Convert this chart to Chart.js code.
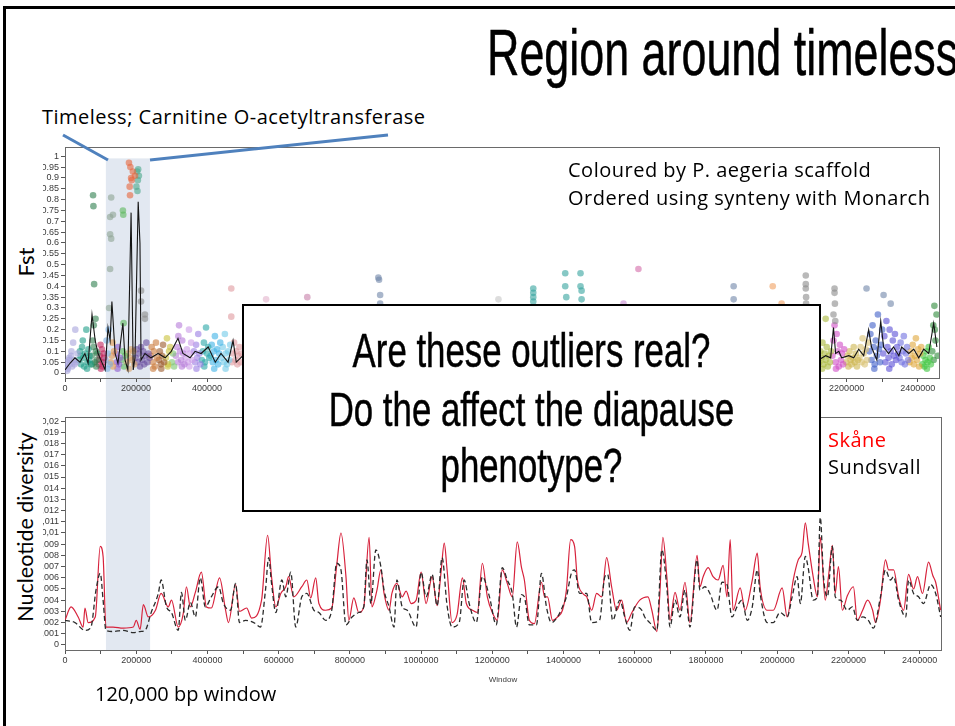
<!DOCTYPE html>
<html>
<head>
<meta charset="utf-8">
<title>Region around timeless</title>
<script src="https://cdn.jsdelivr.net/npm/chart.js@4.4.1/dist/chart.umd.min.js"></script>
<style>
  html, body { margin: 0; padding: 0; background: #fff; }
  body { position: relative; width: 955px; height: 726px; overflow: hidden; font-family: 'Open Sans', Lato, sans-serif; color: #000; }
  .frame { position: absolute; left: 3px; top: 6px; width: 1000px; height: 800px; border-left: 3px solid #000; border-top: 3px solid #000; box-sizing: border-box; }
  .txt { position: absolute; white-space: nowrap; line-height: 1; }
  .note { font-size: 20px; letter-spacing: 0.5px; }
  .cond { font-family: 'Liberation Sans', Arial, sans-serif; -webkit-text-stroke: 0.5px #000; }
  canvas { position: absolute; }
  #fst { left: 43px; top: 140px; }
  #pi { left: 43px; top: 400px; }
  #question { position: absolute; left: 242px; top: 304px; width: 579px; height: 208px; background: #fff; border: 2px solid #000; box-sizing: border-box; z-index: 5; }
  .qline { position: absolute; left: 242px; width: 579px; text-align: center; font-size: 49px; line-height: 1; transform: scaleX(0.71); transform-origin: 50% 0; z-index: 6; white-space: nowrap; }
  .rot { position: absolute; white-space: nowrap; line-height: 1; transform: translate(-50%, -50%) rotate(-90deg); font-family: Lato, sans-serif; }
  svg { position: absolute; left: 0; top: 0; z-index: 4; }
</style>
</head>
<body>
<div class="frame"></div>

<div class="txt cond" style="left:487px; top:20px; font-size:65px; transform:scaleX(0.69); transform-origin:0 0;">Region around timeless</div>
<div class="txt note" style="left:42px; top:107px;">Timeless; Carnitine O-acetyltransferase</div>

<canvas id="fst" width="900" height="260"></canvas>
<canvas id="pi" width="900" height="285"></canvas>

<svg width="955" height="726">
  <line x1="63" y1="135" x2="108" y2="160" stroke="#4f81bd" stroke-width="3"/>
  <line x1="150" y1="160" x2="388" y2="135" stroke="#4f81bd" stroke-width="3"/>
</svg>

<div class="txt note" style="left:568px; top:160px;">Coloured by P. aegeria scaffold</div>
<div class="txt note" style="left:568px; top:188px;">Ordered using synteny with Monarch</div>
<div class="rot" style="left:26px; top:262px; font-size:22px;">Fst</div>
<div class="rot" style="left:26px; top:527px; font-size:21.5px;">Nucleotide diversity</div>
<div class="txt note" style="left:828px; top:430px; color:#ff0000;">Skåne</div>
<div class="txt note" style="left:828px; top:457px;">Sundsvall</div>
<div class="txt" style="left:95px; top:684px; font-size:20px;">120,000 bp window</div>

<div id="question"></div>
<div class="qline cond" style="top:326px;">Are these outliers real?</div>
<div class="qline cond" style="top:385px;">Do the affect the diapause</div>
<div class="qline cond" style="top:441px;">phenotype?</div>

<script>
// ---- Fst windows, one list per P. aegeria scaffold ----
const scaffoldColors = [
  '#a7a3dc', '#1f9e89', '#2f7f4f', '#c0245c', '#7fb0e3', '#e39a4e', '#8d5acf', '#5cb85c',
  '#d9a066', '#e8663c', '#4ca98c', '#6a4fa0', '#c97a3a', '#9b5a2b', '#c9c23a', '#7cc46f',
  '#b67bd9', '#cc9be8', '#9a7de2', '#2aa6a6', '#3fb3e6', '#72c9e8', '#e09a9e', '#8ea392',
  '#8a8a8a', '#e3b3cb', '#c77fa8', '#6f86a8', '#c6c6c6', '#36a39e', '#c68ad0', '#d36aa8',
  '#f0a060', '#a9b83a', '#d04fc6', '#cdb550', '#d8c172', '#3f5fc8', '#5a4fd6', '#6f70e0',
  '#e0a63a', '#3cc43c', '#2e8b3a'
];

const fstPos = [
  [2000, 5000, 8000, 11000, 14000, 17000, 20000, 23000, 26000, 29000, 32000, 35000, 6000, 18000, 12000, 27000],
  [39000, 42000, 45000, 48000, 51000, 54000, 57000, 60000, 63000, 66000, 69000, 72000, 50000, 62000, 44000, 68000],
  [75000, 78000, 81000, 84000, 87000, 90000, 80000, 86000, 88000, 79000, 80000, 82000, 76000, 91000],
  [95000, 98000, 101000, 104000, 107000, 110000, 100000, 105000, 96000, 109000],
  [114000, 117000, 120000, 123000, 126000, 119000],
  [129000, 132000, 135000, 138000, 134000],
  [143000, 146000, 149000, 152000, 155000, 148000],
  [160000, 163000, 166000, 169000, 165000, 163000, 164000],
  [174000, 177000, 180000, 183000, 186000, 189000, 192000, 195000],
  [180000, 184000, 191000, 197000, 186000, 188000, 182000, 183000],
  [203000, 206000, 208000, 201000, 204000, 205000],
  [199000, 202000, 205000, 208000, 211000, 214000, 217000, 220000, 223000, 226000, 229000, 232000, 235000, 238000],
  [241000, 244000, 247000, 250000, 253000, 256000, 259000, 248000],
  [264000, 267000, 270000, 273000, 276000, 279000, 271000],
  [284000, 287000, 290000, 293000, 296000, 289000],
  [301000, 304000, 307000],
  [312000, 315000, 318000, 321000, 324000, 327000, 330000, 333000, 336000, 319000, 329000],
  [340000, 343000, 346000, 349000, 352000, 355000, 358000, 350000],
  [363000, 366000, 369000, 372000, 375000, 378000, 381000, 370000],
  [385000, 388000, 391000, 394000, 397000, 400000, 403000, 406000, 392000],
  [410000, 413000, 416000, 419000, 422000, 425000, 428000, 431000, 434000, 437000, 420000],
  [441000, 444000, 447000, 450000, 453000, 456000, 459000, 462000, 465000, 452000],
  [470000, 473000, 476000, 479000, 482000, 485000, 488000, 491000, 494000, 497000, 468000, 468000],
  [130000, 127000, 135000, 127000, 130000, 127000, 124000],
  [214000, 214000, 225000, 225000, 2085000, 2085000, 2085000, 2086000, 2086000, 2166000, 2166000, 2167000, 2163000, 2168000],
  [566000],
  [682000],
  [882000, 884000, 887000, 887000, 1882000, 1882000, 2256000, 2304000, 2324000],
  [1220000],
  [1318000, 1318000, 1318000, 1318000, 1408000, 1408000, 1411000, 1451000, 1451000, 1454000, 1454000],
  [1572000],
  [1614000],
  [1992000, 2017000],
  [2123000, 2126000, 2129000, 2132000, 2135000, 2138000, 2141000, 2144000, 2147000, 2150000, 2153000, 2156000, 2141000, 2131000],
  [2160000, 2163000, 2166000, 2169000, 2172000, 2175000, 2178000, 2181000, 2184000, 2187000, 2190000, 2193000, 2170000],
  [2199000, 2202000, 2205000, 2208000, 2211000, 2214000, 2217000, 2220000, 2223000, 2226000, 2229000, 2232000],
  [2236000, 2239000, 2242000, 2245000, 2248000, 2251000, 2254000, 2257000, 2260000],
  [2264000, 2267000, 2270000, 2273000, 2276000, 2279000, 2282000, 2285000, 2288000, 2291000, 2294000, 2297000, 2300000, 2278000],
  [2303000, 2306000, 2309000, 2312000, 2315000, 2318000, 2321000, 2324000, 2327000, 2330000, 2333000, 2336000, 2339000, 2342000, 2345000, 2320000],
  [2349000, 2352000, 2355000, 2358000, 2361000, 2364000, 2367000, 2370000, 2373000],
  [2377000, 2380000, 2383000, 2386000, 2389000, 2392000, 2395000, 2398000, 2401000, 2404000, 2407000, 2410000],
  [2413000, 2416000, 2419000, 2422000, 2425000, 2428000, 2431000, 2434000, 2437000, 2426000],
  [2441000, 2444000, 2447000, 2450000, 2453000, 2456000, 2445000, 2448000]
];

const fstVal = [
  [0.03, 0.05, 0.02, 0.06, 0.04, 0.08, 0.03, 0.14, 0.06, 0.20, 0.05, 0.09, 0.01, 0.10, 0.07, 0.04],
  [0.06, 0.10, 0.04, 0.12, 0.07, 0.03, 0.09, 0.20, 0.05, 0.11, 0.08, 0.04, 0.15, 0.02, 0.08, 0.06],
  [0.08, 0.15, 0.22, 0.05, 0.10, 0.06, 0.12, 0.25, 0.03, 0.82, 0.77, 0.41, 0.04, 0.09],
  [0.04, 0.08, 0.02, 0.11, 0.05, 0.07, 0.13, 0.03, 0.06, 0.09],
  [0.06, 0.15, 0.09, 0.20, 0.04, 0.02],
  [0.05, 0.08, 0.03, 0.10, 0.14],
  [0.09, 0.05, 0.12, 0.04, 0.07, 0.02],
  [0.06, 0.10, 0.03, 0.08, 0.23, 0.75, 0.73],
  [0.05, 0.09, 0.02, 0.07, 0.11, 0.06, 0.10, 0.04],
  [0.97, 0.95, 0.93, 0.91, 0.90, 0.89, 0.86, 0.82],
  [0.93, 0.94, 0.91, 0.86, 0.84, 0.89],
  [0.07, 0.11, 0.05, 0.09, 0.03, 0.12, 0.06, 0.10, 0.04, 0.08, 0.14, 0.05, 0.09, 0.07],
  [0.08, 0.12, 0.05, 0.10, 0.03, 0.14, 0.07, 0.02],
  [0.06, 0.10, 0.04, 0.08, 0.13, 0.05, 0.02],
  [0.07, 0.16, 0.04, 0.10, 0.12, 0.03],
  [0.05, 0.09, 0.03],
  [0.08, 0.12, 0.05, 0.22, 0.10, 0.06, 0.15, 0.09, 0.04, 0.17, 0.03],
  [0.07, 0.11, 0.05, 0.20, 0.09, 0.14, 0.06, 0.03],
  [0.10, 0.05, 0.13, 0.07, 0.18, 0.09, 0.04, 0.02],
  [0.06, 0.10, 0.14, 0.05, 0.21, 0.09, 0.12, 0.07, 0.03],
  [0.08, 0.13, 0.05, 0.10, 0.17, 0.06, 0.11, 0.04, 0.09, 0.14, 0.02],
  [0.07, 0.12, 0.05, 0.18, 0.09, 0.04, 0.10, 0.06, 0.13, 0.02],
  [0.05, 0.09, 0.14, 0.06, 0.10, 0.04, 0.08, 0.12, 0.05, 0.09, 0.39, 0.26],
  [0.81, 0.72, 0.73, 0.64, 0.62, 0.48, 0.30],
  [0.38, 0.33, 0.27, 0.25, 0.45, 0.41, 0.39, 0.35, 0.32, 0.39, 0.37, 0.32, 0.27, 0.24],
  [0.34],
  [0.35],
  [0.44, 0.43, 0.36, 0.32, 0.40, 0.34, 0.39, 0.36, 0.32],
  [0.34],
  [0.39, 0.37, 0.35, 0.33, 0.46, 0.40, 0.35, 0.46, 0.40, 0.38, 0.34],
  [0.32],
  [0.48],
  [0.40, 0.32],
  [0.05, 0.10, 0.07, 0.14, 0.04, 0.09, 0.06, 0.12, 0.03, 0.08, 0.05, 0.10, 0.25, 0.02],
  [0.08, 0.15, 0.22, 0.05, 0.18, 0.10, 0.03, 0.13, 0.06, 0.09, 0.04, 0.11, 0.02],
  [0.05, 0.08, 0.03, 0.10, 0.06, 0.04, 0.07, 0.12, 0.05, 0.09, 0.03, 0.06],
  [0.07, 0.12, 0.05, 0.16, 0.09, 0.04, 0.11, 0.06, 0.14],
  [0.10, 0.18, 0.06, 0.22, 0.12, 0.04, 0.15, 0.08, 0.27, 0.11, 0.05, 0.13, 0.20, 0.02],
  [0.09, 0.17, 0.05, 0.24, 0.12, 0.07, 0.20, 0.10, 0.04, 0.15, 0.08, 0.18, 0.06, 0.12, 0.09, 0.02],
  [0.07, 0.14, 0.05, 0.10, 0.17, 0.04, 0.09, 0.12, 0.06],
  [0.05, 0.10, 0.07, 0.13, 0.04, 0.08, 0.16, 0.06, 0.11, 0.03, 0.09, 0.12],
  [0.04, 0.08, 0.03, 0.06, 0.10, 0.05, 0.12, 0.07, 0.04, 0.02],
  [0.10, 0.22, 0.31, 0.15, 0.27, 0.08, 0.06, 0.20]
];

// smoothed Fst (black line); null breaks the line
const fstMeanPos = [
  0, 14000, 28000, 42000, 56000, 65000, 76000, 85000, 93000, 101000, 113000, 121000, 127000, 132000,
  141000, 149000, 163000, 169000, 177000, 186000, 192000, 197000, 206000, 211000, 214000, 225000,
  242000, 262000, 282000, 299000, 318000, 332000, 352000, 366000, 383000, 403000, 423000, 439000,
  459000, 473000, 482000, 501000, 1300000,
  2121000, 2141000, 2155000, 2163000, 2169000, 2178000, 2186000, 2206000, 2220000, 2234000, 2248000,
  2262000, 2270000, 2285000, 2296000, 2304000, 2318000, 2332000, 2347000, 2355000, 2375000, 2389000,
  2403000, 2417000, 2431000, 2445000, 2454000
];
const fstMeanVal = [
  0.014, 0.045, 0.07, 0.05, 0.09, 0.045, 0.27, 0.15, 0.09, 0.06, 0.014, 0.21, 0.15, 0.33,
  0.09, 0.045, 0.23, 0.06, 0.014, 0.74, 0.014, 0.07, 0.79, 0.6, 0.06, 0.09,
  0.07, 0.09, 0.07, 0.10, 0.16, 0.09, 0.07, 0.10, 0.09, 0.12, 0.05, 0.09,
  0.05, 0.15, 0.05, 0.08, null,
  0.06, 0.08, 0.07, 0.21, 0.09, 0.10, 0.07, 0.08, 0.07, 0.11, 0.08,
  0.20, 0.12, 0.06, 0.24, 0.12, 0.09, 0.12, 0.08, 0.12, 0.09, 0.11,
  0.07, 0.11, 0.09, 0.23, 0.12
];

// ---- nucleotide diversity ----
const skanePos = [
  0, 17000, 37000, 51000, 56000, 65000, 85000, 99000, 107000, 115000, 135000, 163000, 192000, 200000,
  211000, 220000, 234000, 254000, 270000, 290000, 299000, 318000, 332000, 341000, 352000, 366000,
  383000, 397000, 411000, 434000, 451000, 459000, 479000, 490000, 510000, 524000, 552000, 569000,
  580000, 592000, 606000, 620000, 628000, 642000, 665000, 679000, 690000, 704000, 713000, 732000,
  749000, 763000, 775000, 789000, 797000, 811000, 825000, 839000, 854000, 862000, 876000, 887000,
  896000, 910000, 918000, 932000, 947000, 958000, 972000, 986000, 1000000, 1014000, 1031000, 1045000,
  1056000, 1065000, 1073000, 1087000, 1101000, 1116000, 1127000, 1144000, 1158000, 1172000, 1186000,
  1200000, 1214000, 1228000, 1242000, 1256000, 1270000, 1282000, 1290000, 1304000, 1318000, 1338000,
  1347000, 1355000, 1369000, 1383000, 1397000, 1408000, 1420000, 1431000, 1439000, 1454000, 1465000,
  1479000, 1493000, 1507000, 1521000, 1535000, 1549000, 1563000, 1577000, 1592000, 1614000, 1637000,
  1648000, 1662000, 1670000, 1679000, 1690000, 1699000, 1713000, 1727000, 1741000, 1755000, 1775000,
  1783000, 1792000, 1806000, 1820000, 1834000, 1848000, 1859000, 1868000, 1876000, 1896000, 1910000,
  1930000, 1944000, 1952000, 1972000, 1989000, 2014000, 2028000, 2045000, 2059000, 2070000, 2079000,
  2087000, 2101000, 2113000, 2121000, 2135000, 2144000, 2155000, 2163000, 2172000, 2183000, 2197000,
  2214000, 2225000, 2240000, 2254000, 2268000, 2276000, 2290000, 2304000, 2313000, 2327000, 2341000,
  2355000, 2369000, 2383000, 2394000, 2408000, 2425000, 2437000, 2445000, 2459000
];
const skaneVal = [
  0.0022, 0.0034, 0.0025, 0.0016, 0.0033, 0.0020, 0.0025, 0.0088, 0.0079, 0.0016, 0.0016, 0.0015, 0.0016, 0.0022,
  0.0014, 0.0036, 0.0025, 0.0031, 0.0046, 0.0034, 0.0040, 0.0016, 0.0028, 0.0052, 0.0034, 0.0047,
  0.0065, 0.0034, 0.0033, 0.0060, 0.0031, 0.0020, 0.0054, 0.0030, 0.0033, 0.0024, 0.0040, 0.0098,
  0.0061, 0.0034, 0.0046, 0.0052, 0.0061, 0.0043, 0.0052, 0.0058, 0.0042, 0.0060, 0.0037, 0.0031,
  0.0033, 0.0071, 0.0100, 0.0061, 0.0022, 0.0042, 0.0029, 0.0034, 0.0096, 0.0034, 0.0049, 0.0067,
  0.0046, 0.0031, 0.0046, 0.0055, 0.0043, 0.0048, 0.0037, 0.0040, 0.0065, 0.0037, 0.0061, 0.0035,
  0.0065, 0.0091, 0.0067, 0.0020, 0.0027, 0.0060, 0.0037, 0.0031, 0.0029, 0.0073, 0.0043,
  0.0029, 0.0022, 0.0067, 0.0055, 0.0043, 0.0092, 0.0069, 0.0058, 0.0022, 0.0019, 0.0056,
  0.0043, 0.0043, 0.0022, 0.0025, 0.0031, 0.0049, 0.0094, 0.0088, 0.0058, 0.0046, 0.0043,
  0.0031, 0.0046, 0.0043, 0.0078, 0.0052, 0.0031, 0.0040, 0.0020, 0.0029, 0.0040, 0.0043,
  0.0031, 0.0012, 0.0043, 0.0096, 0.0061, 0.0022, 0.0047, 0.0031, 0.0056, 0.0020, 0.0080,
  0.0052, 0.0061, 0.0069, 0.0061, 0.0058, 0.0071, 0.0043, 0.0094, 0.0031, 0.0051, 0.0031,
  0.0058, 0.0082, 0.0052, 0.0031, 0.0031, 0.0051, 0.0025, 0.0058, 0.0076, 0.0083, 0.0109,
  0.0091, 0.0061, 0.0043, 0.0096, 0.0040, 0.0061, 0.0089, 0.0046, 0.0070, 0.0031, 0.0044,
  0.0052, 0.0022, 0.0031, 0.0040, 0.0031, 0.0020, 0.0040, 0.0076, 0.0067, 0.0067, 0.0043,
  0.0031, 0.0063, 0.0050, 0.0061, 0.0046, 0.0074, 0.0062, 0.0056, 0.0031
];

const sundsvallPos = [
  0, 28000, 56000, 73000, 87000, 99000, 107000, 115000, 135000, 163000, 192000, 211000, 225000, 242000,
  262000, 270000, 285000, 299000, 318000, 327000, 338000, 352000, 366000, 380000, 394000, 411000,
  431000, 445000, 465000, 479000, 490000, 507000, 530000, 549000, 563000, 572000, 580000, 592000,
  609000, 620000, 634000, 648000, 665000, 679000, 699000, 713000, 732000, 749000, 763000, 775000,
  789000, 806000, 825000, 839000, 848000, 859000, 873000, 887000, 896000, 910000, 924000, 932000,
  947000, 961000, 986000, 1000000, 1014000, 1031000, 1045000, 1059000, 1073000, 1087000, 1107000,
  1121000, 1135000, 1155000, 1172000, 1192000, 1211000, 1228000, 1242000, 1256000, 1268000, 1282000,
  1290000, 1304000, 1324000, 1338000, 1352000, 1366000, 1383000, 1397000, 1408000, 1423000, 1431000,
  1445000, 1465000, 1479000, 1501000, 1516000, 1524000, 1538000, 1558000, 1572000, 1586000, 1600000,
  1620000, 1628000, 1642000, 1662000, 1676000, 1690000, 1699000, 1713000, 1727000, 1741000, 1755000,
  1775000, 1783000, 1797000, 1811000, 1831000, 1845000, 1859000, 1873000, 1887000, 1901000, 1916000,
  1930000, 1944000, 1952000, 1972000, 1989000, 2008000, 2028000, 2042000, 2056000, 2065000, 2079000,
  2087000, 2101000, 2113000, 2121000, 2130000, 2141000, 2155000, 2163000, 2178000, 2197000, 2211000,
  2225000, 2240000, 2256000, 2270000, 2290000, 2304000, 2318000, 2327000, 2341000, 2361000, 2369000,
  2383000, 2397000, 2411000, 2431000, 2445000, 2459000
];
const sundsvallVal = [
  0.0022, 0.0020, 0.0013, 0.0016, 0.0049, 0.0064, 0.0040, 0.0013, 0.0012, 0.0013, 0.0011, 0.0012, 0.0013, 0.0029,
  0.0046, 0.0058, 0.0034, 0.0029, 0.0013, 0.0047, 0.0022, 0.0038, 0.0025, 0.0060, 0.0034, 0.0043,
  0.0052, 0.0037, 0.0031, 0.0055, 0.0020, 0.0022, 0.0020, 0.0016, 0.0049, 0.0078, 0.0055, 0.0029,
  0.0058, 0.0043, 0.0065, 0.0016, 0.0043, 0.0046, 0.0031, 0.0029, 0.0022, 0.0031, 0.0073, 0.0067,
  0.0018, 0.0025, 0.0029, 0.0034, 0.0076, 0.0037, 0.0085, 0.0070, 0.0049, 0.0034, 0.0016, 0.0058,
  0.0034, 0.0031, 0.0016, 0.0065, 0.0043, 0.0063, 0.0035, 0.0078, 0.0035, 0.0016, 0.0020,
  0.0058, 0.0037, 0.0020, 0.0061, 0.0043, 0.0018, 0.0069, 0.0058, 0.0046, 0.0016, 0.0045,
  0.0043, 0.0018, 0.0018, 0.0064, 0.0034, 0.0020, 0.0025, 0.0034, 0.0043, 0.0065, 0.0067,
  0.0046, 0.0046, 0.0020, 0.0022, 0.0061, 0.0063, 0.0022, 0.0040, 0.0025, 0.0013, 0.0034,
  0.0031, 0.0025, 0.0020, 0.0013, 0.0085, 0.0052, 0.0016, 0.0040, 0.0025, 0.0049, 0.0016,
  0.0076, 0.0049, 0.0052, 0.0046, 0.0031, 0.0056, 0.0054, 0.0025, 0.0034, 0.0040, 0.0022,
  0.0034, 0.0067, 0.0046, 0.0020, 0.0020, 0.0029, 0.0025, 0.0043, 0.0061, 0.0037, 0.0079,
  0.0069, 0.0040, 0.0043, 0.0114, 0.0061, 0.0043, 0.0088, 0.0043, 0.0040, 0.0031, 0.0034,
  0.0022, 0.0025, 0.0022, 0.0015, 0.0043, 0.0067, 0.0058, 0.0061, 0.0040, 0.0025, 0.0058,
  0.0046, 0.0043, 0.0037, 0.0054, 0.0046, 0.0025
];

// ---- axes ----
const windowTicks = [0, 100000, 200000, 300000, 400000, 500000, 600000, 700000, 800000, 900000, 1000000,
  1100000, 1200000, 1300000, 1400000, 1500000, 1600000, 1700000, 1800000, 1900000, 2000000,
  2100000, 2200000, 2300000, 2400000];
const fstTicks = [0, 0.05, 0.1, 0.15, 0.2, 0.25, 0.3, 0.35, 0.4, 0.45, 0.5, 0.55, 0.6, 0.65, 0.7,
  0.75, 0.8, 0.85, 0.9, 0.95, 1];
const piTicks = [0, 0.001, 0.002, 0.003, 0.004, 0.005, 0.006, 0.007, 0.008, 0.009, 0.01, 0.011,
  0.012, 0.013, 0.014, 0.015, 0.016, 0.017, 0.018, 0.019, 0.02];
const windowMax = 2460000;
const shadeStart = 115000;   // highlighted 120 kb region around timeless
const shadeEnd = 239000;

function rgba(hex, a) {
  const n = parseInt(hex.slice(1), 16);
  return `rgba(${n >> 16},${(n >> 8) & 255},${n & 255},${a})`;
}

const tickFont = { family: "'Liberation Sans', Arial, sans-serif", size: 9 };

// pale band behind the timeless region
const shadePlugin = {
  id: 'shade',
  beforeDraw(chart, args, opts) {
    const x = chart.scales.x, ctx = chart.ctx, a = chart.chartArea;
    const x0 = x.getPixelForValue(shadeStart), x1 = x.getPixelForValue(shadeEnd);
    const top = opts.fromCanvasTop ? 0 : a.top + opts.inset;
    const bottom = opts.toCanvasBottom ? chart.height : a.bottom;
    ctx.save();
    ctx.fillStyle = 'rgb(226,232,241)';
    ctx.fillRect(x0, top, x1 - x0, bottom - top);
    ctx.restore();
  }
};

// box round the plot area
const framePlugin = {
  id: 'frame',
  beforeDatasetsDraw(chart) {
    const { ctx, chartArea: a } = chart;
    ctx.save();
    ctx.strokeStyle = '#6a6a6a';
    ctx.lineWidth = 1;
    ctx.strokeRect(Math.round(a.left) + 0.5, Math.round(a.top) + 0.5,
      Math.round(a.right - a.left), Math.round(a.bottom - a.top));
    ctx.restore();
  }
};

function windowAxis(height, title) {
  return {
    type: 'linear', min: 0, max: windowMax,
    afterBuildTicks: s => { s.ticks = windowTicks.map(v => ({ value: v })); },
    afterFit: s => { s.height = height; },
    ticks: { font: tickFont, color: '#3a3a3a', maxRotation: 0, autoSkip: false, padding: 1,
      callback: v => (v % 200000 === 0 ? String(v) : '') },
    grid: { drawOnChartArea: false, drawTicks: true, tickLength: 4, color: '#555' },
    border: { display: false },
    title: title ? { display: true, text: title, font: { family: tickFont.family, size: 8 }, color: '#3a3a3a', padding: { top: 1, bottom: 0 } } : { display: false }
  };
}

function valueAxis(min, max, ticks, width, fmt) {
  return {
    type: 'linear', min, max,
    afterBuildTicks: s => { s.ticks = ticks.map(v => ({ value: v })); },
    afterFit: s => { s.width = width; },
    ticks: { font: tickFont, color: '#3a3a3a', autoSkip: false, padding: 2, callback: fmt },
    grid: { drawOnChartArea: false, drawTicks: true, tickLength: 4, color: '#555' },
    border: { display: false }
  };
}

const scaffoldSets = scaffoldColors.map((c, i) => ({
  type: 'scatter',
  data: fstPos[i].map((p, j) => ({ x: p, y: fstVal[i][j] })),
  backgroundColor: rgba(c, 0.6),
  borderWidth: 0,
  pointRadius: 3.3,
  order: 1
}));

new Chart(document.getElementById('fst'), {
  type: 'scatter',
  data: {
    datasets: [
      ...scaffoldSets,
      {
        type: 'line',
        data: fstMeanPos.map((p, j) => ({ x: p, y: fstMeanVal[j] })),
        borderColor: '#141414', borderWidth: 1.1, pointRadius: 0, tension: 0, spanGaps: false, order: 0
      }
    ]
  },
  options: {
    responsive: false, animation: false, events: [],
    layout: { padding: { top: 4, right: 2, bottom: 0, left: 0 } },
    plugins: { legend: { display: false }, tooltip: { enabled: false },
      shade: { inset: 11, toCanvasBottom: true } },
    scales: {
      x: windowAxis(22),
      y: valueAxis(-0.023, 1.041, fstTicks, 22, v => String(v))
    }
  },
  plugins: [shadePlugin, framePlugin]
});

const toXY = (pos, val) => pos.map((p, j) => ({ x: p, y: val[j] }));

new Chart(document.getElementById('pi'), {
  type: 'line',
  data: {
    datasets: [
      { label: 'Skåne', data: toXY(skanePos, skaneVal), borderColor: '#d7223c', borderWidth: 1.2,
        pointRadius: 0, cubicInterpolationMode: 'monotone', order: 1 },
      { label: 'Sundsvall', data: toXY(sundsvallPos, sundsvallVal), borderColor: '#2b2b2b', borderWidth: 1.3,
        borderDash: [5, 3], pointRadius: 0, cubicInterpolationMode: 'monotone', order: 0 }
    ]
  },
  options: {
    responsive: false, animation: false, events: [],
    layout: { padding: { top: 17, right: 2, bottom: 0, left: 0 } },
    plugins: { legend: { display: false }, tooltip: { enabled: false },
      shade: { fromCanvasTop: true } },
    scales: {
      x: windowAxis(35, 'Window'),
      y: valueAxis(-0.00045, 0.02036, piTicks, 22, v => String(v).replace('.', ','))
    }
  },
  plugins: [shadePlugin, framePlugin]
});
</script>
</body>
</html>
